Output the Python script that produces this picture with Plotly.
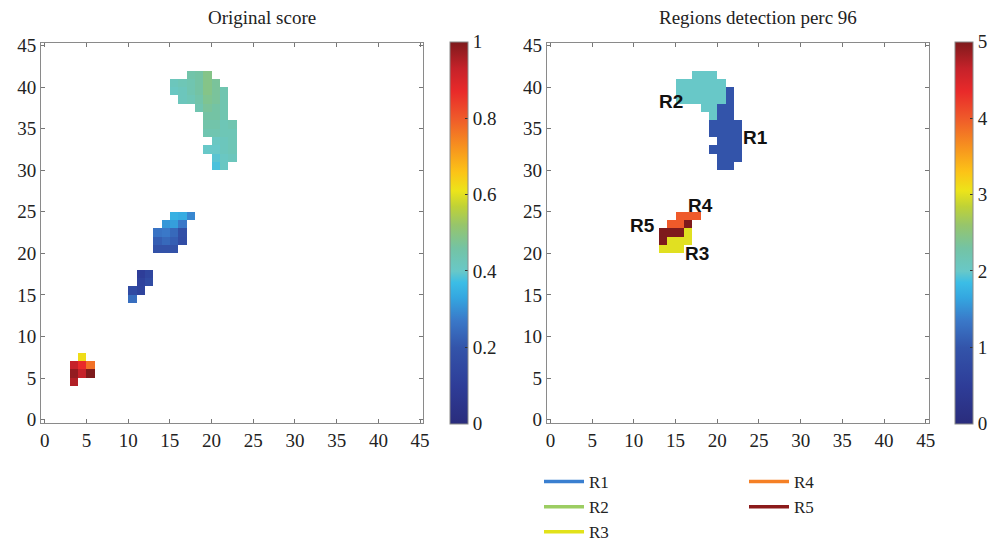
import numpy as np
import plotly.graph_objects as go

# ---------------- data ----------------
GRID_N = 46
AXIS_TICKS = list(range(0, 46, 5))

# Original score: (row j, first column i, values along the row)
SCORE_ROWS = [
    (41, 17, [0.45, 0.46, 0.49]),
    (40, 15, [0.42, 0.43, 0.44, 0.46, 0.49, 0.47]),
    (39, 15, [0.41, 0.42, 0.44, 0.46, 0.49, 0.47, 0.44]),
    (38, 16, [0.42, 0.43, 0.45, 0.48, 0.47, 0.44]),
    (37, 18, [0.44, 0.47, 0.46, 0.44]),
    (36, 19, [0.46, 0.46, 0.44]),
    (35, 19, [0.45, 0.45, 0.43, 0.44]),
    (34, 19, [0.44, 0.44, 0.43, 0.43]),
    (33, 20, [0.41, 0.42, 0.43]),
    (32, 19, [0.40, 0.40, 0.42, 0.43]),
    (31, 20, [0.39, 0.41, 0.42]),
    (30, 20, [0.38, 0.41]),
    (24, 15, [0.35, 0.34, 0.29]),
    (23, 14, [0.31, 0.32, 0.27]),
    (22, 13, [0.26, 0.27, 0.24, 0.18]),
    (21, 13, [0.22, 0.24, 0.22, 0.17]),
    (20, 13, [0.19, 0.19, 0.19]),
    (17, 11, [0.10, 0.14]),
    (16, 11, [0.12, 0.16]),
    (15, 10, [0.16, 0.13]),
    (14, 10, [0.25]),
    (7, 4, [0.62]),
    (6, 3, [0.93, 0.87, 0.77]),
    (5, 3, [0.98, 0.93, 1.00]),
    (4, 3, [0.95]),
]

# Detected regions: (row j, first column i, region ids along the row)
REGION_ROWS = [
    (41, 17, [2, 2, 2]),
    (40, 15, [2, 2, 2, 2, 2, 2]),
    (39, 15, [2, 2, 2, 2, 2, 2, 1]),
    (38, 15, [2, 2, 2, 2, 2, 2, 1]),
    (37, 18, [2, 2, 1, 1]),
    (36, 19, [2, 1, 1]),
    (35, 19, [1, 1, 1, 1]),
    (34, 19, [1, 1, 1, 1]),
    (33, 20, [1, 1, 1]),
    (32, 19, [1, 1, 1, 1]),
    (31, 20, [1, 1, 1]),
    (30, 20, [1, 1]),
    (24, 15, [4, 4, 4]),
    (23, 14, [4, 4, 5]),
    (22, 13, [5, 5, 5, 3]),
    (21, 13, [5, 3, 3, 3]),
    (20, 13, [3, 3, 3]),
]

REGION_NAMES = ["R1", "R2", "R3", "R4", "R5"]
REGION_LEGEND_COLORS = ["#3a7fd0", "#9ccd62", "#e2e21a", "#f58025", "#8b1a1a"]
# label anchor (x, y) in data units for each region name
REGION_LABEL_POS = {"R1": (24.6, 34.0), "R2": (14.4, 38.3), "R3": (17.6, 20.0),
                    "R4": (18.0, 25.8), "R5": (11.0, 23.3)}

SCORE_TICKS = [0, 0.2, 0.4, 0.6, 0.8, 1]
SCORE_TICK_TEXT = ["0", "0.2", "0.4", "0.6", "0.8", "1"]
REGION_TICKS = [0, 1, 2, 3, 4, 5]

COLORSCALE = [
    [0.0, "#2a2c7c"],
    [0.1, "#2e3d98"],
    [0.2, "#3354aa"],
    [0.27, "#3a78c8"],
    [0.33, "#34a6e0"],
    [0.37, "#3bbde6"],
    [0.40, "#68c8c8"],
    [0.46, "#74c3a4"],
    [0.52, "#96c56c"],
    [0.57, "#c0d236"],
    [0.61, "#ece41a"],
    [0.66, "#fcc317"],
    [0.72, "#f7961e"],
    [0.80, "#ef5a2a"],
    [0.87, "#e92a2a"],
    [0.93, "#c6222a"],
    [1.0, "#7e1a1c"],
]


def build_grid(rows):
    g = np.full((GRID_N, GRID_N), np.nan)
    for j, i0, vals in rows:
        for k, v in enumerate(vals):
            g[j, i0 + k] = v
    return g


score = build_grid(SCORE_ROWS)
regions = build_grid(REGION_ROWS)

W, H = 991, 544
SERIF = "Liberation Serif, Times New Roman, serif"
SANS = "Liberation Sans, Arial, sans-serif"
FS = 19
LEG_FS = 17

# panel geometry in pixels
LBOX = (41, 423)
RBOX = (546.7, 928.7)
YBOX = (42.7, 423.3)  # top, bottom
CB_W = 18


def px_x(p):
    return p / W


def px_y(p):
    return 1 - p / H


fig = go.Figure()

common_cb = dict(
    thickness=CB_W, thicknessmode="pixels",
    len=(YBOX[1] - YBOX[0] + 1) / H, lenmode="fraction",
    y=px_y(YBOX[0] - 1), yanchor="top", xanchor="left",
    xpad=0, ypad=0, outlinecolor="#8a8a8a", outlinewidth=1,
    ticks="inside", ticklen=3, tickcolor="#333",
    tickfont=dict(family=SERIF, size=FS, color="#222"),
)

fig.add_trace(go.Heatmap(
    z=score, x0=0.5, dx=1, y0=0.5, dy=1,
    colorscale=COLORSCALE, zmin=0, zmax=1, hoverongaps=False,
    xaxis="x", yaxis="y",
    colorbar=dict(common_cb, x=px_x(450), tickvals=SCORE_TICKS, ticktext=SCORE_TICK_TEXT),
))
fig.add_trace(go.Heatmap(
    z=regions, x0=0.5, dx=1, y0=0.5, dy=1,
    colorscale=COLORSCALE, zmin=0, zmax=5, hoverongaps=False,
    xaxis="x2", yaxis="y2",
    colorbar=dict(common_cb, x=px_x(955), tickvals=REGION_TICKS),
))

for k, (name, col) in enumerate(zip(REGION_NAMES, REGION_LEGEND_COLORS)):
    fig.add_trace(go.Scatter(
        x=[None], y=[None], mode="lines", name=name,
        line=dict(color=col, width=3.5),
        legendgroup=name, showlegend=True,
        xaxis="x2", yaxis="y2",
        legend="legend" if k < 3 else "legend2",
    ))

axis_common = dict(
    range=[-0.45, 45.35], tickvals=AXIS_TICKS, ticks="inside", ticklen=4,
    tickcolor="#777", showline=True, linecolor="#8a8a8a", linewidth=1,
    mirror="ticks", showgrid=False, zeroline=False, automargin=False,
    tickfont=dict(family=SERIF, size=FS, color="#222"),
)

legend_common = dict(
    xanchor="left", yanchor="top",
    font=dict(family=SERIF, size=LEG_FS, color="#222"),
    bgcolor="rgba(0,0,0,0)", traceorder="grouped", tracegroupgap=0,
    itemwidth=40,
)

fig.update_layout(
    width=W, height=H, autosize=False,
    margin=dict(l=0, r=0, t=0, b=0, autoexpand=False),
    paper_bgcolor="white", plot_bgcolor="white",
    showlegend=True,
    xaxis=dict(axis_common, domain=[px_x(LBOX[0]), px_x(LBOX[1])], anchor="y"),
    yaxis=dict(axis_common, domain=[px_y(YBOX[1]), px_y(YBOX[0])], anchor="x"),
    xaxis2=dict(axis_common, domain=[px_x(RBOX[0]), px_x(RBOX[1])], anchor="y2"),
    yaxis2=dict(axis_common, domain=[px_y(YBOX[1]), px_y(YBOX[0])], anchor="x2"),
    legend=dict(legend_common, x=px_x(539), y=px_y(464)),
    legend2=dict(legend_common, x=px_x(744), y=px_y(464)),
)

annotations = [
    dict(text="Original score", x=px_x(262), y=px_y(18), xref="paper", yref="paper",
         showarrow=False, xanchor="center", yanchor="middle",
         font=dict(family=SERIF, size=FS, color="#222")),
    dict(text="Regions detection perc 96", x=px_x(758), y=px_y(18), xref="paper", yref="paper",
         showarrow=False, xanchor="center", yanchor="middle",
         font=dict(family=SERIF, size=FS, color="#222")),
]
for name in REGION_NAMES:
    lx, ly = REGION_LABEL_POS[name]
    annotations.append(dict(text="<b>%s</b>" % name, x=lx, y=ly, xref="x2", yref="y2",
                            showarrow=False, xanchor="center", yanchor="middle",
                            font=dict(family=SANS, size=19, color="#111")))
fig.update_layout(annotations=annotations)

fig.write_html("out.html")
